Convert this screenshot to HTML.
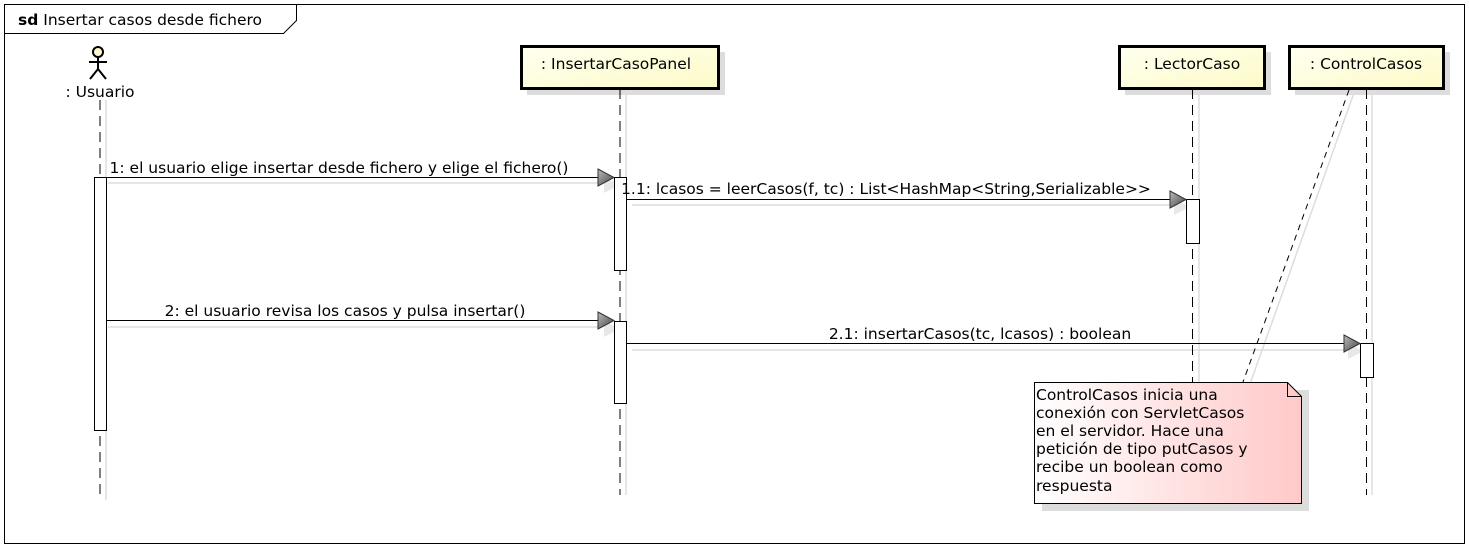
<!DOCTYPE html><html><head><style>body{margin:0;background:#fff}text{font-family:"DejaVu Sans","Liberation Sans",sans-serif;font-size:15.5px;fill:#000}.n text{font-size:15.5px}</style></head><body>
<svg width="1469" height="546" xmlns="http://www.w3.org/2000/svg">
<defs>
<linearGradient id="y" x1="0" y1="0" x2="1" y2="1"><stop offset="0" stop-color="#fffff0"/><stop offset="1" stop-color="#fdfbc8"/></linearGradient>
<linearGradient id="r" x1="0" y1="0" x2="1" y2="0"><stop offset="0" stop-color="#fff"/><stop offset="1" stop-color="#ffc9c9"/></linearGradient>
<linearGradient id="a" x1="0" y1="0" x2="1" y2="1"><stop offset="0" stop-color="#bbb"/><stop offset="1" stop-color="#444"/></linearGradient>
</defs>
<rect x="4.5" y="4.5" width="1460" height="539" fill="#fff" stroke="#000"/>
<path d="M4.5 33.5 H283.5 L296.5 20.5 V4.5" fill="none" stroke="#000"/>
<text x="18" y="25"><tspan font-weight="bold">sd</tspan> Insertar casos desde fichero</text>
<g stroke="#ddd" stroke-width="1.5" fill="none">
<line x1="106" y1="100" x2="106" y2="500"/><line x1="626" y1="95" x2="626" y2="495"/><line x1="1199" y1="95" x2="1199" y2="495"/><line x1="1372" y1="95" x2="1372" y2="495"/>
<line x1="1355" y1="90" x2="1250" y2="384"/>
<line x1="108" y1="183" x2="600" y2="183"/><line x1="632" y1="205" x2="1172" y2="205"/><line x1="108" y1="327" x2="600" y2="327"/><line x1="632" y1="350" x2="1346" y2="350"/>
</g>
<g fill="#ddd"><rect x="527" y="52" width="198" height="43"/><rect x="1125" y="52" width="146" height="43"/><rect x="1295" y="52" width="155" height="43"/><rect x="1042" y="390" width="267" height="121"/>
<polygon points="604,177 620,185 604,193" fill="#e8e8e8"/><polygon points="1174,199 1190,207 1174,215" fill="#e8e8e8"/><polygon points="604,321 620,329 604,337" fill="#e8e8e8"/><polygon points="1348,343 1364,351 1348,359" fill="#e8e8e8"/></g>
<g stroke="#000" stroke-dasharray="10,6" fill="none">
<line x1="100" y1="100" x2="100" y2="500"/><line x1="620" y1="89" x2="620" y2="495"/><line x1="1192.5" y1="89" x2="1192.5" y2="495"/><line x1="1366.5" y1="89" x2="1366.5" y2="495"/>
</g>
<line x1="1349" y1="90" x2="1243" y2="382" stroke="#000" stroke-dasharray="6,5"/>
<g stroke="#000" stroke-width="2" fill="none"><circle cx="98" cy="52" r="5" fill="#fffbd0"/><line x1="98" y1="57" x2="98" y2="69"/><line x1="89" y1="62" x2="107" y2="62"/><line x1="98" y1="69" x2="90" y2="79"/><line x1="98" y1="69" x2="106" y2="79"/></g>
<text x="100" y="97" text-anchor="middle">: Usuario</text>
<g stroke="#000" stroke-width="3" fill="url(#y)"><rect x="521.5" y="46.5" width="197" height="42"/><rect x="1119.5" y="46.5" width="145" height="42"/><rect x="1289.5" y="46.5" width="154" height="42"/></g>
<text x="616" y="69" text-anchor="middle">: InsertarCasoPanel</text>
<text x="1192" y="69" text-anchor="middle">: LectorCaso</text>
<text x="1366" y="69" text-anchor="middle">: ControlCasos</text>
<g fill="#fff" stroke="#000"><rect x="94.5" y="177.5" width="12" height="253"/><rect x="614.5" y="177.5" width="12" height="93"/><rect x="614.5" y="321.5" width="12" height="82"/><rect x="1186.5" y="199.5" width="13" height="44"/><rect x="1360.5" y="343.5" width="13" height="34"/></g>
<g stroke="#000"><line x1="106" y1="177.5" x2="600" y2="177.5"/><line x1="626" y1="199.5" x2="1172" y2="199.5"/><line x1="106" y1="320.5" x2="600" y2="320.5"/><line x1="626" y1="343.5" x2="1346" y2="343.5"/></g>
<g fill="url(#a)" stroke="#333"><polygon points="598,169 614,177.5 598,186"/><polygon points="1170,191 1186,199.5 1170,208"/><polygon points="598,312 614,320.5 598,329"/><polygon points="1344,335 1360,343.5 1344,352"/></g>
<text x="339" y="173" text-anchor="middle">1: el usuario elige insertar desde fichero y elige el fichero()</text>
<text x="886" y="194" text-anchor="middle">1.1: lcasos = leerCasos(f, tc) : List&lt;HashMap&lt;String,Serializable&gt;&gt;</text>
<text x="345" y="316" text-anchor="middle">2: el usuario revisa los casos y pulsa insertar()</text>
<text x="980" y="339" text-anchor="middle">2.1: insertarCasos(tc, lcasos) : boolean</text>
<path d="M1034.5 382.5 H1287.5 L1301.5 396.5 V503.5 H1034.5 Z" fill="url(#r)" stroke="#000"/>
<path d="M1287.5 382.5 V396.5 H1301.5" fill="none" stroke="#000"/>
<g class="n"><text x="1036" y="400">ControlCasos inicia una</text><text x="1036" y="418">conexión con ServletCasos</text><text x="1036" y="436">en el servidor. Hace una</text><text x="1036" y="454">petición de tipo putCasos y</text><text x="1036" y="472">recibe un boolean como</text><text x="1036" y="491">respuesta</text></g>
</svg></body></html>
